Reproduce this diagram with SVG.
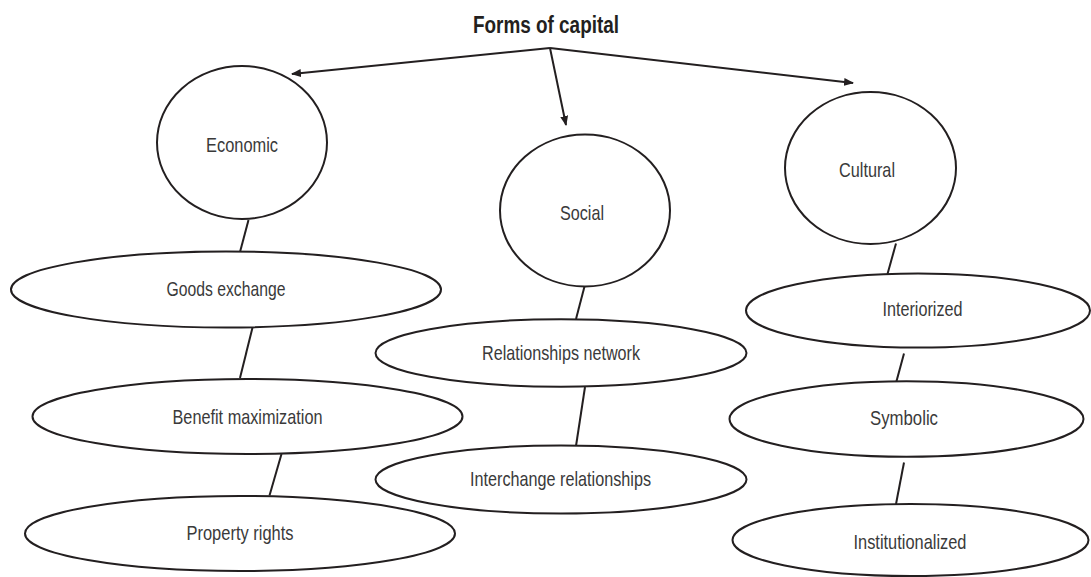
<svg xmlns="http://www.w3.org/2000/svg" width="1091" height="577" viewBox="0 0 1091 577">
<style>
.n{fill:#fff;stroke:#231f20;stroke-width:2}
.t{font-family:"Liberation Sans Narrow","Liberation Sans",Arial,sans-serif;font-size:21px;fill:#3a3a3a;text-anchor:middle}
.title{font-family:"Liberation Sans Narrow","Liberation Sans",Arial,sans-serif;font-size:23.5px;font-weight:bold;fill:#231f20;text-anchor:middle}
.c{stroke:#231f20;stroke-width:2;fill:none}
</style>
<defs>
<marker id="ah" markerUnits="userSpaceOnUse" markerWidth="10" markerHeight="8" refX="9" refY="4" orient="auto">
<path d="M0,0 L10,4 L0,8 z" fill="#231f20"/>
</marker>
</defs>
<rect width="1091" height="577" fill="#fff"/>
<text class="title" x="546" y="33" textLength="146" lengthAdjust="spacingAndGlyphs">Forms of capital</text>
<g id="connectors">
<line class="c" x1="550" y1="48" x2="292" y2="74" marker-end="url(#ah)"/>
<line class="c" x1="550" y1="48" x2="566" y2="125" marker-end="url(#ah)"/>
<line class="c" x1="550" y1="48" x2="853" y2="83" marker-end="url(#ah)"/>
<line class="c" x1="248.5" y1="220" x2="240" y2="252"/>
<line class="c" x1="252.5" y1="327.5" x2="240" y2="378"/>
<line class="c" x1="281.5" y1="454" x2="269.5" y2="495.5"/>
<line class="c" x1="584.5" y1="286.5" x2="576" y2="319"/>
<line class="c" x1="585" y1="387" x2="576" y2="446"/>
<line class="c" x1="896" y1="243.5" x2="887.5" y2="274"/>
<line class="c" x1="904" y1="353.5" x2="896" y2="383"/>
<line class="c" x1="904" y1="462.5" x2="896" y2="504"/>
</g>
<g id="economic">
<ellipse class="n" cx="242" cy="142.5" rx="85" ry="76.5"/>
<text class="t" x="242" y="152" textLength="72" lengthAdjust="spacingAndGlyphs">Economic</text>
</g>
<g id="goods-exchange">
<ellipse class="n" cx="226" cy="289.5" rx="215" ry="38"/>
<text class="t" x="226" y="296" textLength="119" lengthAdjust="spacingAndGlyphs">Goods exchange</text>
</g>
<g id="benefit-maximization">
<ellipse class="n" cx="247.5" cy="416.5" rx="215" ry="37.5"/>
<text class="t" x="247.5" y="423.5" textLength="150" lengthAdjust="spacingAndGlyphs">Benefit maximization</text>
</g>
<g id="property-rights">
<ellipse class="n" cx="240" cy="533.5" rx="215" ry="37.5"/>
<text class="t" x="240" y="540" textLength="107" lengthAdjust="spacingAndGlyphs">Property rights</text>
</g>
<g id="social">
<ellipse class="n" cx="585" cy="210.5" rx="85" ry="76"/>
<text class="t" x="582" y="219.5" textLength="44" lengthAdjust="spacingAndGlyphs">Social</text>
</g>
<g id="relationships-network">
<ellipse class="n" cx="561" cy="353" rx="185.5" ry="33.7"/>
<text class="t" x="561" y="360" textLength="158" lengthAdjust="spacingAndGlyphs">Relationships network</text>
</g>
<g id="interchange-relationships">
<ellipse class="n" cx="561" cy="479.5" rx="185.5" ry="34"/>
<text class="t" x="560.5" y="486" textLength="181" lengthAdjust="spacingAndGlyphs">Interchange relationships</text>
</g>
<g id="cultural">
<ellipse class="n" cx="870.5" cy="168" rx="85.5" ry="76"/>
<text class="t" x="867" y="177" textLength="56" lengthAdjust="spacingAndGlyphs">Cultural</text>
</g>
<g id="interiorized">
<ellipse class="n" cx="918" cy="310.5" rx="172" ry="37"/>
<text class="t" x="922.5" y="316" textLength="80" lengthAdjust="spacingAndGlyphs">Interiorized</text>
</g>
<g id="symbolic">
<ellipse class="n" cx="906.5" cy="419" rx="177" ry="37.8"/>
<text class="t" x="904" y="425" textLength="68" lengthAdjust="spacingAndGlyphs">Symbolic</text>
</g>
<g id="institutionalized">
<ellipse class="n" cx="910.5" cy="540" rx="178" ry="36"/>
<text class="t" x="910" y="548.5" textLength="113" lengthAdjust="spacingAndGlyphs">Institutionalized</text>
</g>
</svg>
